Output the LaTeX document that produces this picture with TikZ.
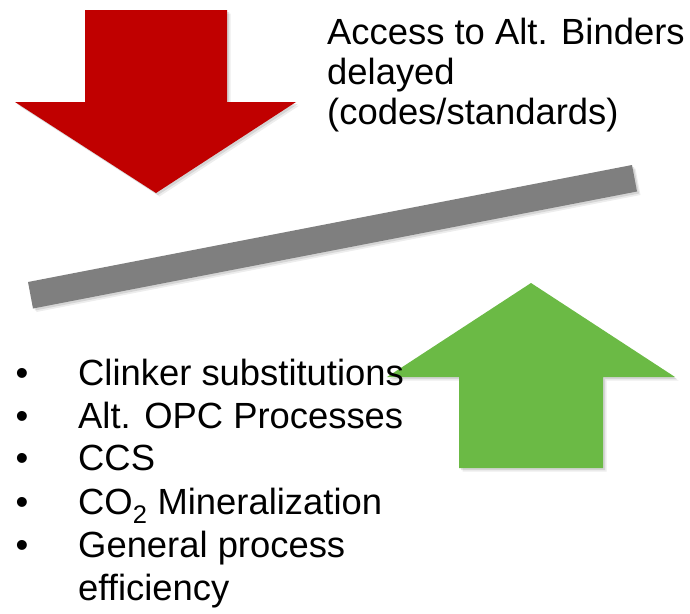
\documentclass[tikz,border=0pt]{standalone}
\usepackage{fontspec}
\setmainfont{Liberation Sans}
\definecolor{arrowred}{HTML}{C00000}
\definecolor{arrowgreen}{HTML}{6BBA45}
\definecolor{bargray}{HTML}{7F7F7F}
\begin{document}
\begin{tikzpicture}[x=1pt,y=-1pt,
  txt/.style={anchor=base west,inner sep=0pt,font=\fontsize{36.4}{44}\selectfont},
  bul/.style={anchor=base,inner sep=0pt,font=\fontsize{36.4}{44}\selectfont}]
\useasboundingbox (0,0) rectangle (690,613);
% shadows
\foreach \d/\o in {2/0.10,3.5/0.07}{
  \fill[black,opacity=\o,shift={(\d,\d)}] (85,10) -- (227,10) -- (227,102) -- (296,102) -- (156,193) -- (15,102) -- (85,102) -- cycle;
  \fill[black,opacity=\o,shift={(\d,\d)}] (28,282) -- (632,165) -- (637,191.5) -- (33,308.5) -- cycle;
  \fill[black,opacity=\o,shift={(\d,\d)}] (531,283) -- (675,377) -- (603,377) -- (603,468) -- (459,468) -- (459,377) -- (387,377) -- cycle;
}
% red arrow
\fill[arrowred] (85,10) -- (227,10) -- (227,102) -- (296,102) -- (156,193) -- (15,102) -- (85,102) -- cycle;
% gray bar
\fill[bargray] (28,282) -- (632,165) -- (637,191.5) -- (33,308.5) -- cycle;
% green arrow
\fill[arrowgreen] (531,283) -- (675,377) -- (603,377) -- (603,468) -- (459,468) -- (459,377) -- (387,377) -- cycle;
% top text
\node[txt] (t1) at (327,44) {Access to Alt. Binders};
\node[txt] (t2) at (327,84) {delayed};
\node[txt] (t3) at (327,124) {(codes/standards)};
% bullets
\node[bul] (b1) at (22,385) {•};
\node[txt] (l1) at (78,385) {Clinker substitutions};
\node[bul] (b2) at (22,428) {•};
\node[txt] (l2) at (78,428) {Alt. OPC Processes};
\node[bul] (b3) at (22,470) {•};
\node[txt] (l3) at (78,470) {CCS};
\node[bul] (b4) at (22,514) {•};
\node[txt] (l4) at (78,514) {CO\textsubscript{2} Mineralization};
\node[bul] (b5) at (22,557) {•};
\node[txt] (l5) at (78,557) {General process};
\node[txt] (l6) at (78,600) {efficiency};
\end{tikzpicture}
\end{document}
